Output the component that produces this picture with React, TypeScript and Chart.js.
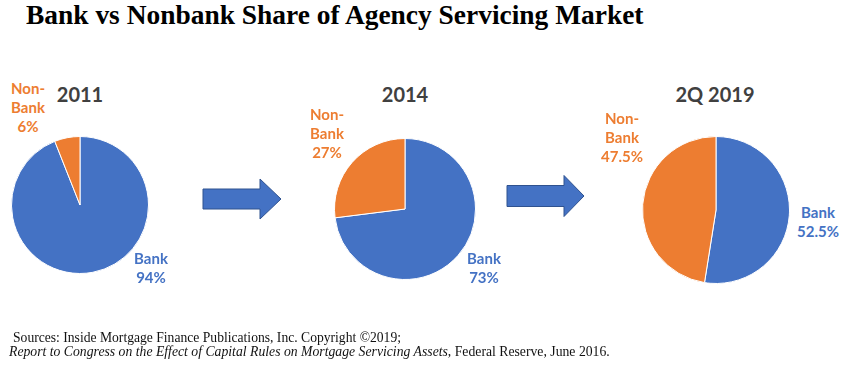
import React, { useEffect, useRef } from 'react';
import { Chart, registerables } from 'chart.js';

Chart.register(...registerables);

// ---------- data ----------
const periods = ['2011', '2014', '2Q 2019'];
const bankShare = [94, 73, 52.5];
const nonBankShare = [6, 27, 47.5];
const segmentNames = ['Bank', 'Non-Bank'];

const titleText = 'Bank vs Nonbank Share of Agency Servicing Market';
const sourceLine1 = 'Sources: Inside Mortgage Finance Publications, Inc. Copyright \u00A92019;';
const sourceLine2Italic = 'Report to Congress on the Effect of Capital Rules on Mortgage Servicing Assets';
const sourceLine2Plain = ', Federal Reserve, June 2016.';

// ---------- styles / layout ----------
const BLUE = '#4472C4';
const ORANGE = '#ED7D31';
const YEAR_GRAY = '#404040';

const pieLayout = [
  { cx: 80, cy: 205, r: 68, titleX: 80, nb: { x: 28, y: 83.5 }, bk: { x: 151, y: 253.5 } },
  { cx: 405, cy: 209, r: 70, titleX: 405, nb: { x: 327, y: 109.5 }, bk: { x: 484, y: 253.5 } },
  { cx: 716, cy: 210, r: 73, titleX: 715, nb: { x: 622, y: 113.5 }, bk: { x: 818, y: 207.5 } },
];

const arrows = [
  { x0: 203, x1: 260, x2: 281, cy: 199, shaftH: 20, headH: 40 },
  { x0: 507, x1: 564, x2: 584, cy: 196, shaftH: 21, headH: 41 },
];

function textWidth(font: string, text: string): number {
  const ctx = document.createElement('canvas').getContext('2d');
  if (!ctx) return text.length * 7;
  ctx.font = font;
  return ctx.measureText(text).width;
}

type Part = { text: string; italic?: boolean; bold?: boolean };

function FitLine({ left, top, width, size, parts, color }: { left: number; top: number; width: number; size: number; parts: Part[]; color: string }) {
  const total = parts.reduce(
    (s, p) => s + textWidth(`${p.italic ? 'italic ' : ''}${p.bold ? 'bold ' : ''}${size}px "Liberation Serif"`, p.text),
    0
  );
  const scale = total > 0 ? width / total : 1;
  return (
    <div
      style={{
        position: 'absolute',
        left,
        top,
        whiteSpace: 'pre',
        fontFamily: '"Liberation Serif", serif',
        fontSize: size,
        lineHeight: `${size + 1}px`,
        color,
        transform: `scaleX(${scale})`,
        transformOrigin: '0 0',
      }}
    >
      {parts.map((p, i) => (
        <span key={i} style={{ fontStyle: p.italic ? 'italic' : 'normal', fontWeight: p.bold ? 700 : 400 }}>
          {p.text}
        </span>
      ))}
    </div>
  );
}

function PieChart({ idx }: { idx: number }) {
  const ref = useRef<HTMLCanvasElement | null>(null);
  const L = pieLayout[idx];
  const size = 2 * L.r + 2;
  useEffect(() => {
    if (!ref.current) return;
    const chart = new Chart(ref.current, {
      type: 'pie',
      data: {
        labels: segmentNames,
        datasets: [
          {
            data: [bankShare[idx], nonBankShare[idx]],
            backgroundColor: [BLUE, ORANGE],
            borderColor: '#ffffff',
            borderWidth: 1,
          },
        ],
      },
      options: {
        responsive: false,
        animation: false,
        devicePixelRatio: 1,
        layout: { padding: 0 },
        plugins: { legend: { display: false }, tooltip: { enabled: false } },
      },
    });
    return () => chart.destroy();
  }, [idx]);
  return (
    <canvas
      ref={ref}
      width={size}
      height={size}
      style={{ position: 'absolute', left: L.cx - L.r - 1, top: L.cy - L.r - 1, width: size, height: size }}
    />
  );
}

function Label({ x, y, lines, color }: { x: number; y: number; lines: string[]; color: string }) {
  return (
    <div
      style={{
        position: 'absolute',
        left: x,
        top: y - 4.5,
        transform: 'translateX(-50%)',
        textAlign: 'center',
        fontFamily: 'Lato, "Open Sans", sans-serif',
        fontWeight: 700,
        fontSize: 15,
        lineHeight: '19px',
        color,
        whiteSpace: 'nowrap',
      }}
    >
      {lines.map((l, i) => (
        <div key={i}>{l}</div>
      ))}
    </div>
  );
}

function splitName(name: string): string[] {
  const h = name.indexOf('-');
  return h >= 0 ? [name.slice(0, h + 1), name.slice(h + 1)] : [name];
}

export default function App() {
  return (
    <div
      style={{
        position: 'fixed',
        left: 0,
        top: 0,
        width: 850,
        height: 375,
        background: '#ffffff',
        overflow: 'hidden',
      }}
    >
      <FitLine left={26} top={1} width={619} size={27} color="#000" parts={[{ text: titleText, bold: true }]} />

      {periods.map((p, i) => (
        <div
          key={'t' + i}
          style={{
            position: 'absolute',
            left: pieLayout[i].titleX,
            top: 81.5,
            transform: 'translateX(-50%)',
            fontFamily: 'Lato, "Open Sans", sans-serif',
            fontWeight: 700,
            fontSize: 20,
            lineHeight: '24px',
            color: YEAR_GRAY,
            whiteSpace: 'nowrap',
          }}
        >
          {p}
        </div>
      ))}

      {periods.map((_, i) => (
        <PieChart key={'p' + i} idx={i} />
      ))}

      {periods.map((_, i) => (
        <React.Fragment key={'l' + i}>
          <Label
            x={pieLayout[i].nb.x}
            y={pieLayout[i].nb.y}
            color={ORANGE}
            lines={[...splitName(segmentNames[1]), `${nonBankShare[i]}%`]}
          />
          <Label
            x={pieLayout[i].bk.x}
            y={pieLayout[i].bk.y}
            color={BLUE}
            lines={[...splitName(segmentNames[0]), `${bankShare[i]}%`]}
          />
        </React.Fragment>
      ))}

      <svg width={850} height={375} style={{ position: 'absolute', left: 0, top: 0, pointerEvents: 'none' }}>
        {arrows.map((a, i) => {
          const s = a.shaftH / 2;
          const h = a.headH / 2;
          const pts = [
            [a.x0, a.cy - s],
            [a.x1, a.cy - s],
            [a.x1, a.cy - h],
            [a.x2, a.cy],
            [a.x1, a.cy + h],
            [a.x1, a.cy + s],
            [a.x0, a.cy + s],
          ]
            .map((q) => q.join(','))
            .join(' ');
          return <polygon key={i} points={pts} fill={BLUE} stroke="#2F528F" strokeWidth={1} />;
        })}
      </svg>

      <FitLine left={12.5} top={330} width={388} size={14} color="#111" parts={[{ text: sourceLine1 }]} />
      <FitLine
        left={9}
        top={344}
        width={601}
        size={14}
        color="#111"
        parts={[{ text: sourceLine2Italic, italic: true }, { text: sourceLine2Plain }]}
      />
    </div>
  );
}
